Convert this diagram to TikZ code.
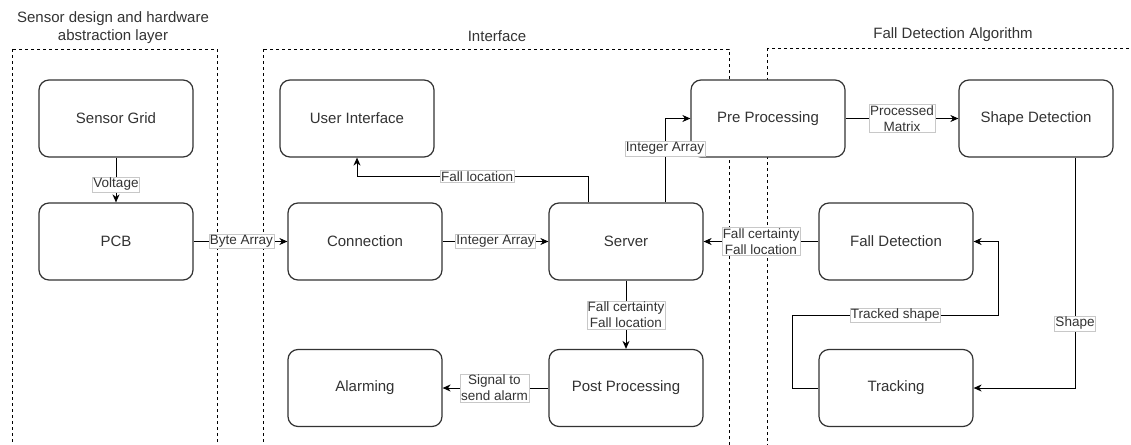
\documentclass[tikz,border=0pt]{standalone}
\usepackage{fontspec}
\setmainfont{Liberation Sans}
\usepackage{tikz}
\usetikzlibrary{arrows.meta,positioning,calc}
\definecolor{ink}{RGB}{51,51,51}
\definecolor{rim}{RGB}{200,200,200}
\tikzset{
  blk/.style={draw=ink,fill=white,line width=1.2pt,rounded corners=10pt,minimum width=154pt,
    minimum height=77pt,text=ink,font=\fontsize{15pt}{18pt}\selectfont},
  lbl/.style={draw=rim,line width=0.4pt,fill=white,inner sep=1pt,align=center,
    text=ink,font=\fontsize{13.5pt}{16pt}\selectfont},
  ttl/.style={align=center,text=ink,font=\fontsize{15pt}{18pt}\selectfont},
  arr/.style={-{Stealth[length=8pt,width=7pt,inset=2.5pt]},line width=1pt},
  frame/.style={line width=0.8pt,dash pattern=on 3pt off 3pt},
}

\begin{document}
\begin{tikzpicture}[x=1pt,y=-1pt]
\clip (0,0) rectangle (1131,444);
% layer frames
\draw[frame] (12,49) rectangle (217,470);
\draw[frame] (263,49) rectangle (729,470);
\draw[frame] (767,48) rectangle (1150,470);
\node[ttl] (ttlsensor) at (113,28) {Sensor design and hardware\\abstraction layer};
\node[ttl] (ttliface) at (497,36) {Interface};
\node[ttl] (ttlalgo) at (953,35) {Fall Detection Algorithm};

% blocks
\node[blk] (grid) at (116,118.5) {Sensor Grid};
\node[blk] (pcb) at (116,241.5) {PCB};
\node[blk] (ui) at (357,118.5) {User Interface};
\node[blk] (conn) at (365,241.5) {Connection};
\node[blk] (alarm) at (365,388) {Alarming};
\node[blk] (server) at (626,241.5) {Server};
\node[blk] (post) at (626,388) {Post Processing};
\node[blk] (pre) at (768,118.5) {Pre Processing};
\node[blk] (shape) at (1036,118.5) {Shape Detection};
\node[blk] (falldet) at (896,241.5) {Fall Detection};
\node[blk] (track) at (896,388) {Tracking};
\coordinate (loop) at (998,315);

% data flow
\draw[arr] (grid) -- node[lbl,pos=0.6]{Voltage} (pcb);
\draw[arr] (pcb) -- node[lbl,pos=0.51]{Byte Array} (conn);
\draw[arr] (conn) -- node[lbl,pos=0.5]{Integer Array} (server);
\draw[arr] ([xshift=-38]server.north) -- ++(0,-26) -| node[lbl,pos=0.24]{Fall location} (ui.south);
\draw[arr] ([xshift=39]server.north) |- node[lbl,pos=0.32]{Integer Array} (pre.west);
\draw[arr] (pre) -- node[lbl,pos=0.5]{Processed\\Matrix} (shape);
\draw[arr] ([xshift=39]shape.south) |- node[lbl,pos=0.36]{Shape} (track.east);
\draw[arr] (track.west) -- ++(-26,0) |- (loop) node[lbl,pos=0.75]{Tracked shape} |- (falldet.east);
\draw[arr] (falldet) -- node[lbl,pos=0.5]{Fall certainty\\Fall location} (server);
\draw[arr] (server) -- node[lbl,pos=0.5]{Fall certainty\\Fall location} (post);
\draw[arr] (post) -- node[lbl,pos=0.51]{Signal to\\send alarm} (alarm);
\end{tikzpicture}
\end{document}
